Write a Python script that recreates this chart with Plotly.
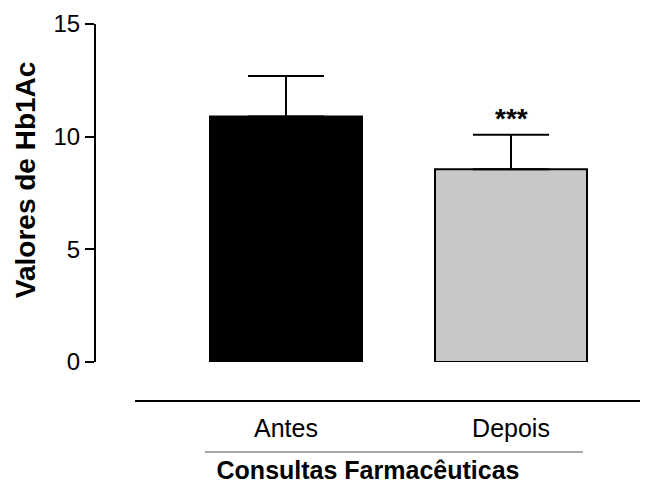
import plotly.graph_objects as go

categories = ["Antes", "Depois"]
means = [10.89, 8.55]
sd_upper = [1.80, 1.54]
bar_colors = ["#000000", "#c8c8c8"]
significance = ["", "***"]
y_ticks = [0, 5, 10, 15]

font_family = "Liberation Sans, Arial, sans-serif"

x_pos = list(range(len(categories)))

fig = go.Figure()
fig.add_trace(go.Bar(
    x=x_pos, y=means, width=0.6756,
    marker=dict(color=bar_colors, line=dict(color="black", width=2)),
    error_y=dict(type="data", symmetric=False, array=sd_upper,
                 arrayminus=[0] * len(means), color="black", thickness=2, width=38),
    showlegend=False, hoverinfo="skip",
))

for xi, m, s, sig in zip(x_pos, means, sd_upper, significance):
    if sig:
        fig.add_annotation(x=xi, y=m + s, text="<b>" + sig + "</b>", showarrow=False,
                           yanchor="bottom", yshift=-1,
                           font=dict(family=font_family, size=28, color="black"))

# y-axis title as rotated annotation
fig.add_annotation(xref="paper", yref="paper", x=0, y=0.538, xanchor="center",
                   yanchor="middle", xshift=-71, textangle=-90, showarrow=False,
                   text="<b>Valores de Hb1Ac</b>",
                   font=dict(family=font_family, size=28, color="black"))

# page body has an 8px default margin: figure is 640x476 to fill the 648x484 window
fig.update_layout(
    width=640, height=476,
    margin=dict(l=88, r=8, t=16, b=122, autoexpand=False),
    paper_bgcolor="white", plot_bgcolor="white",
    font=dict(family=font_family, size=22, color="black"),
    xaxis=dict(range=[-0.8444, 1.5733], tickvals=x_pos, ticktext=categories,
               automargin=False,
               showline=False, showgrid=False, zeroline=False, ticks="",
               ticklabelstandoff=49,
               tickfont=dict(size=25),
               title=dict(text="<b>Consultas Farmacêuticas</b>", standoff=28,
                          font=dict(size=25))),
    yaxis=dict(range=[0, 15], tickvals=y_ticks, showline=True, linecolor="black",
               automargin=False,
               linewidth=2, ticks="outside", ticklen=9, tickwidth=2, tickcolor="black",
               showgrid=False, zeroline=False, tickfont=dict(size=24)),
    shapes=[
        dict(type="line", xref="paper", yref="paper", x0=0.0717, x1=1.0147,
             y0=-0.1154, y1=-0.1154, line=dict(color="black", width=2)),
        dict(type="line", xref="paper", yref="paper", x0=0.2004, x1=0.895,
             y0=-0.266, y1=-0.266, line=dict(color="#8a8a8a", width=1.5)),
    ],
)

fig.write_html("out.html")
